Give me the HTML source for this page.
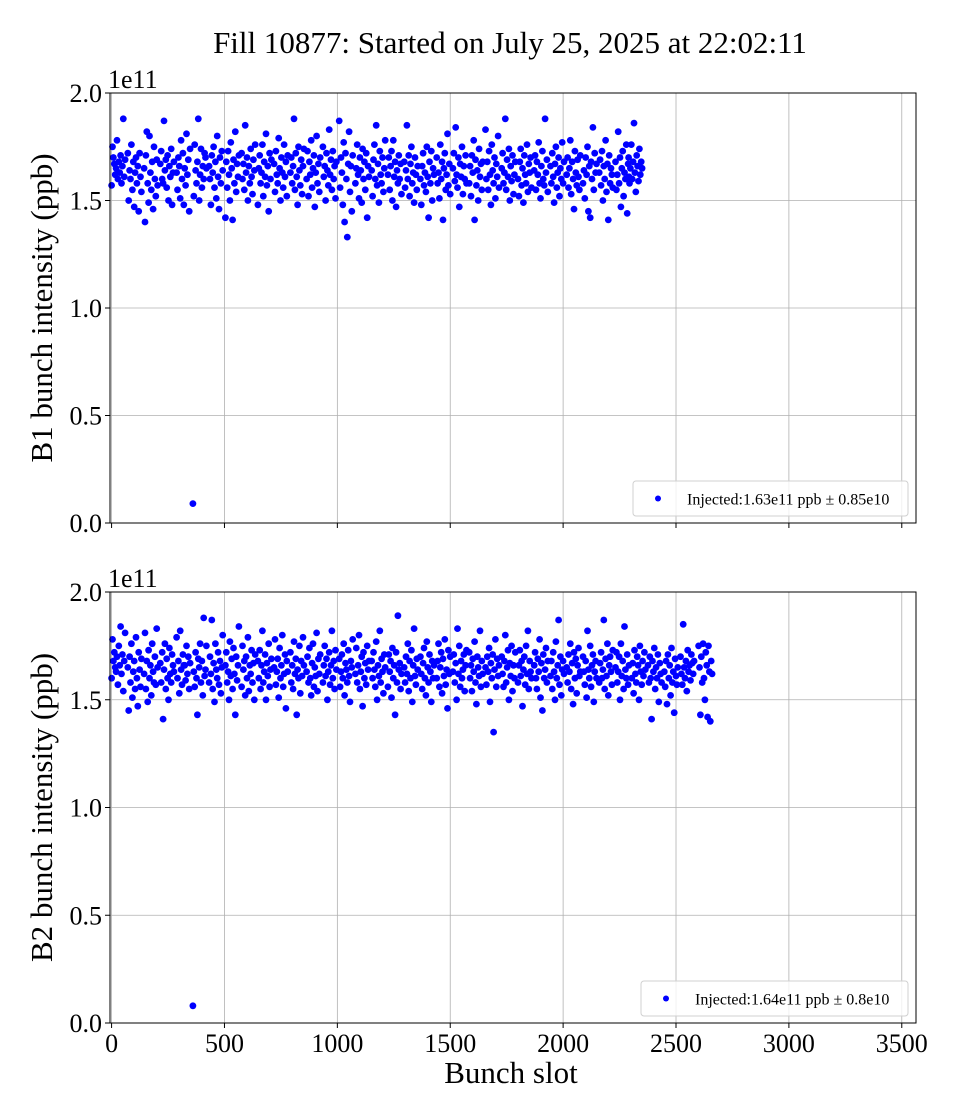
<!DOCTYPE html>
<html><head><meta charset="utf-8">
<style>
html,body{margin:0;padding:0;background:#fff;}
svg{display:block;font-family:"Liberation Serif","DejaVu Serif",serif;}
</style></head>
<body>
<svg id="fig" width="960" height="1120" viewBox="0 0 960 1120" xmlns="http://www.w3.org/2000/svg">
<text x="510" y="53" font-size="31" text-anchor="middle">Fill 10877: Started on July 25, 2025 at 22:02:11</text>
<g id="p1"></g>
<g id="p2"></g>
<text x="511" y="1083" font-size="31" text-anchor="middle">Bunch slot</text>
</svg>
<script>
// ---- data (intensities in units of 1e9 ppb; shown in axis units of 1e11) ----
const xTicks = [0, 500, 1000, 1500, 2000, 2500, 3000, 3500];
const yTicks = [0.0, 0.5, 1.0, 1.5, 2.0];
const yTickLabels = ["0.0", "0.5", "1.0", "1.5", "2.0"];
const bunchSpacing = 4;

const b1TrainStarts = [0,72,144,216,288,360,432,504,576,648,720,792,864,936,1008,1080,1152,1224,1296,1368,1440,1512,1584,1656,1728,1800,1872,1944,2016,2088,2160,2232,2290];
const b1Values = [
[157,175,170,167,162,165,178,160,168,163,171,158,166,188,161,169],
[172,150,164,160,176,155,168,147,163,170,158,166,145,172,161,154],
[165,140,171,182,158,149,180,163,155,168,146,175,160,152,169,157],
[167,173,160,158,187,164,169,156,171,150,166,161,174,148,163,168],
[163,155,170,166,151,178,160,172,148,165,157,181,162,169,145,174],
[9,152,176,164,158,168,188,150,162,174,156,166,160,172,170,165],
[166,160,148,171,163,175,156,168,151,180,161,146,170,158,173,164],
[142,168,156,173,162,150,177,165,141,169,158,182,154,167,161,171],
[172,160,167,155,185,163,170,150,166,158,174,161,153,169,164,176],
[148,165,171,158,163,176,152,168,161,181,157,166,145,172,160,169],
[167,154,173,162,158,179,165,150,170,163,156,176,161,168,152,171],
[163,170,158,166,188,155,172,161,148,175,164,157,169,153,166,174],
[160,173,152,168,162,178,156,165,171,147,163,180,158,167,154,170],
[175,161,166,150,172,164,157,183,162,169,155,173,160,166,151,168],
[187,156,170,163,148,177,140,172,160,133,167,182,154,166,145,171],
[158,165,176,162,151,170,164,149,174,160,168,155,172,142,166,161],
[164,152,169,176,160,185,157,167,149,173,162,158,170,154,165,178],
[162,170,155,166,173,150,178,161,168,147,164,158,171,160,167,153],
[168,156,164,185,160,171,152,167,175,158,163,149,170,162,155,166],
[160,148,166,172,157,163,154,175,161,142,168,158,173,150,165,162],
[170,158,163,151,176,160,168,141,165,172,155,162,181,157,167,153],
[165,172,159,184,162,156,170,147,167,161,175,153,166,160,171,158],
[158,166,152,171,163,178,141,169,157,164,150,174,161,167,155,168],
[183,160,168,155,173,162,148,176,164,158,170,151,167,161,180,156],
[165,172,158,163,188,155,169,161,174,150,166,159,171,153,162,168],
[160,152,168,174,157,165,149,171,162,158,176,154,167,163,170,156],
[164,171,155,168,162,177,158,151,166,173,160,157,188,163,169,154],
[166,158,172,161,149,167,175,156,163,170,152,165,160,177,158,168],
[162,170,156,165,178,153,168,160,146,173,163,157,169,161,155,171],
[158,164,151,170,162,175,145,166,142,168,160,184,155,172,163,167],
[163,169,157,173,150,166,160,178,154,167,141,171,158,165,162,156],
[168,155,162,182,158,170,147,165,173,152,163,160,176,144,167,161],
[170,158,165,176,160,168,186,163,154,171,166,159,174,162,168,165]
];

const b2TrainStarts = [0,72,144,216,288,360,432,504,576,648,720,792,864,936,1008,1080,1152,1224,1296,1368,1440,1512,1584,1656,1728,1800,1872,1944,2016,2088,2160,2232,2304,2376,2448,2520,2600];
const b2Values = [
[160,178,168,172,165,163,170,157,175,166,184,162,171,154,168,181],
[165,145,170,158,176,151,163,168,155,179,160,147,172,164,156,169],
[162,181,155,168,149,173,160,166,152,176,163,158,170,157,183,165],
[167,158,172,141,164,176,155,169,160,150,174,162,158,171,166,163],
[179,160,168,153,182,164,157,171,166,166,159,175,162,170,155,167],
[8,163,156,172,160,143,169,165,176,158,168,152,188,161,164,175],
[158,170,162,187,155,167,149,176,164,160,172,157,168,153,165,180],
[166,172,158,163,150,177,161,169,155,174,162,143,170,159,166,184],
[156,175,164,168,152,170,160,179,154,166,162,173,158,167,150,171],
[168,160,173,155,166,182,158,163,171,150,167,161,176,156,164,169],
[165,178,157,163,169,151,174,160,166,180,156,162,171,146,168,163],
[172,158,166,155,177,162,169,143,164,160,175,153,168,161,179,166],
[163,170,158,174,160,152,167,176,156,165,161,181,154,169,162,171],
[158,166,175,161,169,150,163,172,157,166,182,160,168,155,173,164],
[169,156,163,171,160,176,152,167,164,158,173,161,149,168,165,178],
[162,174,158,166,180,155,163,170,147,172,160,167,157,175,164,168],
[168,160,172,164,156,177,150,166,161,182,158,169,163,153,171,165],
[156,171,163,168,151,174,160,166,143,172,158,189,164,167,155,162],
[165,158,170,162,176,154,168,160,173,149,166,183,161,157,169,164],
[170,162,155,167,174,160,152,177,165,158,171,163,149,168,160,166],
[160,168,176,156,165,172,153,169,161,178,157,164,146,173,162,170],
[163,171,158,167,150,183,162,175,156,168,160,164,171,154,166,173],
[172,160,166,154,169,163,177,158,148,170,165,161,182,156,168,162],
[165,157,170,163,174,149,167,160,171,135,164,178,156,169,161,166],
[170,162,156,168,180,158,165,173,150,167,161,175,154,166,160,172],
[158,166,173,161,168,147,164,170,157,175,162,182,155,168,163,160],
[166,172,160,155,169,163,178,151,167,145,171,160,164,174,158,168],
[161,168,155,172,163,150,177,160,166,187,157,170,152,164,168,162],
[165,158,171,163,176,155,167,148,172,160,169,153,166,174,161,163],
[170,163,157,168,151,182,164,160,175,156,166,171,149,163,168,160],
[158,167,172,160,164,187,155,169,161,176,152,166,170,163,157,173],
[165,172,158,163,170,150,176,161,168,155,184,164,160,171,157,166],
[160,167,153,173,162,158,170,166,150,175,163,157,168,161,172,164],
[166,158,170,160,141,168,163,174,155,165,160,171,149,167,162,158],
[163,156,168,148,171,160,166,152,174,158,163,144,169,161,157,165],
[170,162,157,185,165,160,168,154,173,163,166,159,171,167,162,168],
[175,165,143,170,158,176,160,150,172,166,142,175,163,140,168,162]
];
const b1Legend = "Injected:1.63e11 ppb \u00b1 0.85e10";
const b2Legend = "Injected:1.64e11 ppb \u00b1 0.8e10";

// ---- rendering ----
const NS = "http://www.w3.org/2000/svg";
const xMin = -7, xMax = 3563;
const axL = 110, axR = 916;
function xScale(v){ return axL + (v - xMin) / (xMax - xMin) * (axR - axL); }
function mk(tag, attrs, parent){
  const e = document.createElementNS(NS, tag);
  for (const k in attrs) e.setAttribute(k, attrs[k]);
  parent.appendChild(e); return e;
}

function drawPanel(g, top, bottom, starts, values, ylabel, legendText, showXLabels, legBox, prefix){
  const yScale = v => bottom - (v / 2.0) * (bottom - top);
  xTicks.forEach(t => {
    const x = xScale(t);
    const l = mk("line", {x1:x, x2:x, y1:top, y2:bottom, stroke:"#b0b0b0", "stroke-width":0.8}, g);
    
    
  });
  yTicks.forEach(t => {
    const y = yScale(t);
    const l = mk("line", {x1:axL, x2:axR, y1:y, y2:y, stroke:"#b0b0b0", "stroke-width":0.8}, g);
    
    
  });
  const pts = mk("g", {fill:"#0000ff"}, g);
  
  
  starts.forEach((s, ti) => {
    values[ti].forEach((v, bi) => {
      const c = mk("circle", {cx: xScale(s + bi * bunchSpacing).toFixed(1), cy: yScale(v / 100).toFixed(1), r: 3.4}, pts);
      
      
    });
  });
  const fr = mk("rect", {x:axL, y:top, width:axR-axL, height:bottom-top, fill:"none", stroke:"#000", "stroke-width":1}, g);
  
  
  xTicks.forEach(t => {
    const x = xScale(t);
    const tk = mk("line", {x1:x, x2:x, y1:bottom, y2:bottom+5, stroke:"#000", "stroke-width":1}, g);
    
    
    if (showXLabels){
      const tl = mk("text", {x:x, y:bottom+29, "font-size":26, "text-anchor":"middle"}, g);
      tl.textContent = String(t);
      
      
    }
  });
  yTicks.forEach((t, i) => {
    const y = yScale(t);
    const tk = mk("line", {x1:axL-5, x2:axL, y1:y, y2:y, stroke:"#000", "stroke-width":1}, g);
    
    
    const tl = mk("text", {x:axL-8, y:y+9, "font-size":26, "text-anchor":"end"}, g);
    tl.textContent = yTickLabels[i];
    
    
  });
  const off = mk("text", {x:axL-2, y:top-5, "font-size":26}, g);
  off.textContent = "1e11";
  
  
  const yl = mk("text", {x:0, y:0, "font-size":31, "text-anchor":"middle", transform:`translate(52,${(top+bottom)/2}) rotate(-90)`}, g);
  yl.textContent = ylabel;
  
  
  const lg = mk("g", {}, g);
  
  
  const lb = mk("rect", {x:legBox[0], y:legBox[1], width:legBox[2], height:legBox[3], rx:3, fill:"#fff", "fill-opacity":0.8, stroke:"#d0d0d0", "stroke-width":1}, lg);
  
  
  const lm = mk("circle", {cx:legBox[0]+25, cy:legBox[1]+legBox[3]/2, r:3, fill:"#0000ff"}, lg);
  
  
  const lt = mk("text", {x:legBox[0]+54, y:legBox[1]+legBox[3]/2+6, "font-size":16}, lg);
  lt.textContent = legendText;
  
  
}

drawPanel(document.getElementById("p1"), 93, 523, b1TrainStarts, b1Values, "B1 bunch intensity (ppb)", b1Legend, false, [633,481,275,35], "b1");
drawPanel(document.getElementById("p2"), 592, 1023, b2TrainStarts, b2Values, "B2 bunch intensity (ppb)", b2Legend, true, [641,981,267,35], "b2");
</script>
</body></html>
